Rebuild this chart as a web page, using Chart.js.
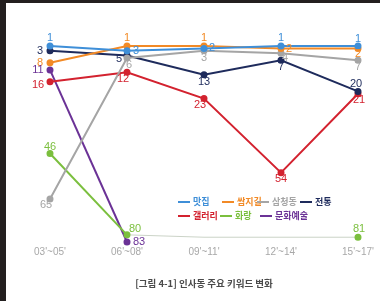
<!DOCTYPE html>
<html><head><meta charset="utf-8">
<script src="https://cdn.jsdelivr.net/npm/chart.js@4"></script>
<style>
html,body{margin:0;padding:0;width:380px;height:301px;overflow:hidden;background:#231f1f;}
#wrap{position:absolute;left:6px;top:3px;width:374px;height:298px;background:#fff;}
#c{position:absolute;left:0;top:0;}
#title{position:absolute;left:0;width:396px;top:273px;text-align:center;font:bold 9.5px "Noto Sans CJK KR";color:#4a4a4a;}
</style></head>
<body>
<div id="wrap"><canvas id="c" width="374" height="298"></canvas>
<div id="title">[그림 4-1] 인사동 주요 키워드 변화</div></div>
<script>
const periods = ["03'~05'", "06'~08'", "09'~11'", "12'~14'", "15'~17'"];
const seriesNames = ["맛집", "쌈지길", "삼청동", "전통", "갤러리", "화랑", "문화예술"];
const matjip   = [1, 3, 2, 1, 1];
const ssamzie  = [8, 1, 1, 2, 2];
const samcheong= [65, 6, 3, 4, 7];
const jeontong = [3, 5, 13, 7, 20];
const gallery  = [16, 12, 23, 54, 21];
const hwarang  = [46, 80, 81, 81, 81];
const munhwa   = [11, 83, null, null, null];
const hwarangShown = [true, true, false, false, true];

const colors = ["#3f8fd8", "#f28a26", "#a5a5a5", "#1e2b5c", "#d3222f", "#7bbf3e", "#6b3296"];
const offsets = [
  [[0,-8],[9,0],[8,0],[0,-8],[0,-7]],
  [[-10,0],[0,-8],[0,-8],[8,1],[0,6]],
  [[-4,6],[2,7],[0,7],[4,5],[0,7]],
  [[-10,0],[-8,3],[0,7],[0,7],[-2,-7]],
  [[-12,3],[-4,7],[-4,6],[0,6],[1,6]],
  [[0,-7],[8,-6],null,null,[1,-8]],
  [[-12,0],[12,0],null,null,null]
];
const allData = [matjip, ssamzie, samcheong, jeontong, gallery, hwarang, munhwa];

const datasets = allData.map((d, i) => ({
  label: seriesNames[i],
  data: d,
  borderColor: colors[i],
  backgroundColor: colors[i],
  borderWidth: 2,
  pointRadius: i === 5 ? d.map((v, j) => hwarangShown[j] ? 2.5 : 0) : 2.5,
  pointBackgroundColor: colors[i],
  tension: 0,
  clip: false,
  segment: i === 5 ? {
    borderColor: ctx => ctx.p0DataIndex >= 1 ? 'rgba(190,200,185,0.8)' : undefined,
    borderWidth: ctx => ctx.p0DataIndex >= 1 ? 1 : undefined
  } : undefined
}));

const labelPlugin = {
  id: 'labels',
  afterDatasetsDraw(chart) {
    const ctx = chart.ctx;
    ctx.save();
    ctx.font = '11px "Liberation Sans"';
    ctx.textAlign = 'center';
    ctx.textBaseline = 'middle';
    chart.data.datasets.forEach((ds, i) => {
      const meta = chart.getDatasetMeta(i);
      meta.data.forEach((pt, j) => {
        const v = ds.data[j];
        if (v == null) return;
        if (i === 5 && !hwarangShown[j]) return;
        const off = offsets[i][j];
        if (!off) return;
        ctx.fillStyle = colors[i];
        ctx.fillText(String(v), pt.x + off[0], pt.y + off[1]);
      });
    });
    // legend
    const items = [
      [0, 172, 199], [1, 216, 199], [2, 251, 199], [3, 294, 199],
      [4, 172, 213], [5, 214, 213], [6, 254, 213]
    ];
    ctx.font = 'bold 9px "Noto Sans CJK KR"';
    ctx.textAlign = 'left';
    items.forEach(([k, x, y]) => {
      ctx.strokeStyle = colors[k];
      ctx.lineWidth = 2;
      ctx.beginPath(); ctx.moveTo(x, y); ctx.lineTo(x + 12, y); ctx.stroke();
      ctx.fillStyle = colors[k];
      ctx.fillText(seriesNames[k], x + 15, y);
    });
    ctx.restore();
  }
};

new Chart(document.getElementById('c'), {
  type: 'line',
  data: { labels: periods, datasets },
  options: {
    responsive: false,
    animation: false,
    events: [],
    layout: { padding: { left: 44, right: 22, top: 43, bottom: 39 } },
    plugins: { legend: { display: false }, tooltip: { enabled: false }, title: { display: false } },
    scales: {
      x: {
        offset: false,
        grid: { display: false, drawTicks: false },
        border: { display: false },
        ticks: { color: '#a8a8a8', font: { family: 'Liberation Sans', size: 10 }, padding: 4, maxRotation: 0, autoSkip: false },
        afterFit(s) { s.height = 20; }
      },
      y: {
        display: false,
        reverse: true,
        min: 1, max: 83
      }
    }
  },
  plugins: [labelPlugin]
});
</script>
</body></html>
